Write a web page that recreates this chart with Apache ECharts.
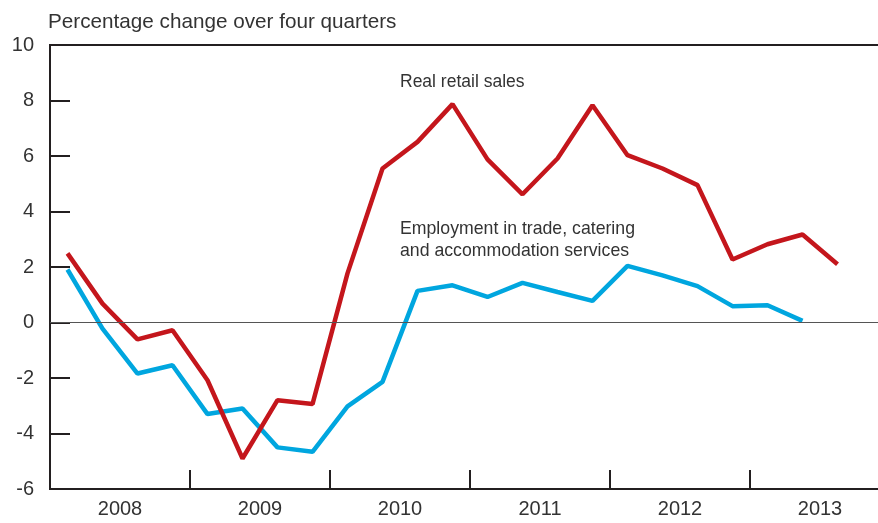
<!DOCTYPE html>
<html>
<head>
<meta charset="utf-8">
<script src="https://cdn.jsdelivr.net/npm/echarts@6/dist/echarts.min.js"></script>
<style>
  html, body { margin: 0; padding: 0; background: #fff; overflow: hidden; }
  #chart { width: 890px; height: 523px; }
</style>
</head>
<body>
<div id="chart"></div>
<script>
// quarters 2008Q1 .. 2013Q4
var years = ['2008', '2009', '2010', '2011', '2012', '2013'];
var quarters = [];
years.forEach(function (y) {
    for (var q = 1; q <= 4; q++) quarters.push(y + 'Q' + q);
});

var retailSales = [2.49, 0.68, -0.61, -0.28, -2.08, -4.9, -2.8, -2.94,
    1.77, 5.55, 6.51, 7.87, 5.88, 4.62, 5.91, 7.83,
    6.03, 5.55, 4.95, 2.27, 2.82, 3.17, 2.1, null];
var employment = [1.91, -0.22, -1.84, -1.54, -3.3, -3.1, -4.5, -4.66,
    -3.02, -2.14, 1.14, 1.34, 0.92, 1.43, 1.1, 0.78,
    2.04, 1.7, 1.31, 0.59, 0.62, 0.06, null, null];
var yTicks = [-6, 10, 2]; // min, max, step

var FONT = '"Liberation Sans", Arial, sans-serif';
var TXT = '#333';
var AXIS = '#231f20';

var myChart = echarts.init(document.getElementById('chart'));

var option = {
    animation: false,
    textStyle: { fontFamily: FONT },
    grid: {
        left: 50, right: 0, top: 45, bottom: 34,
        show: true, borderColor: AXIS, borderWidth: 2, backgroundColor: 'transparent'
    },
    xAxis: [
        {
            type: 'category', data: years, boundaryGap: true, position: 'bottom',
            axisLine: { onZero: false, lineStyle: { color: AXIS, width: 2 } },
            axisTick: { show: true, inside: true, length: 19, interval: 0, lineStyle: { color: AXIS, width: 2 } },
            axisLabel: { color: TXT, fontSize: 20, fontFamily: FONT, margin: 10, interval: 0 },
            splitLine: { show: false }
        },
        {
            type: 'category', data: quarters, boundaryGap: true, position: 'bottom',
            show: false
        }
    ],
    yAxis: {
        type: 'value', min: yTicks[0], max: yTicks[1], interval: yTicks[2],
        axisLine: { show: true, onZero: false, lineStyle: { color: AXIS, width: 2 } },
        axisTick: { show: true, inside: true, length: 20, lineStyle: { color: AXIS, width: 2 } },
        axisLabel: { color: TXT, fontSize: 20, fontFamily: FONT, margin: 16 },
        splitLine: { show: false }
    },
    graphic: [
        { type: 'text', left: 48, top: 12, style: { text: 'Percentage change over four quarters', fill: TXT, font: '20.7px ' + FONT } },
        { type: 'text', left: 400, top: 73, style: { text: 'Real retail sales', fill: TXT, font: '17.5px ' + FONT } },
        { type: 'text', left: 400, top: 218, style: { text: 'Employment in trade, catering\nand accommodation services', fill: TXT, font: '17.7px ' + FONT, lineHeight: 22 } }
    ],
    series: [
        {
            name: 'Employment in trade, catering and accommodation services',
            type: 'line', xAxisIndex: 1, data: employment,
            symbol: 'none',
            lineStyle: { color: '#00a6df', width: 4.5 },
            markLine: {
                silent: true, symbol: 'none', label: { show: false },
                lineStyle: { color: '#555', width: 1, type: 'solid' },
                data: [{ yAxis: 0 }]
            },
            z: 2
        },
        {
            name: 'Real retail sales',
            type: 'line', xAxisIndex: 1, data: retailSales,
            symbol: 'none',
            lineStyle: { color: '#c4161c', width: 4.5 },
            z: 3
        }
    ]
};

myChart.setOption(option);
</script>
</body>
</html>
